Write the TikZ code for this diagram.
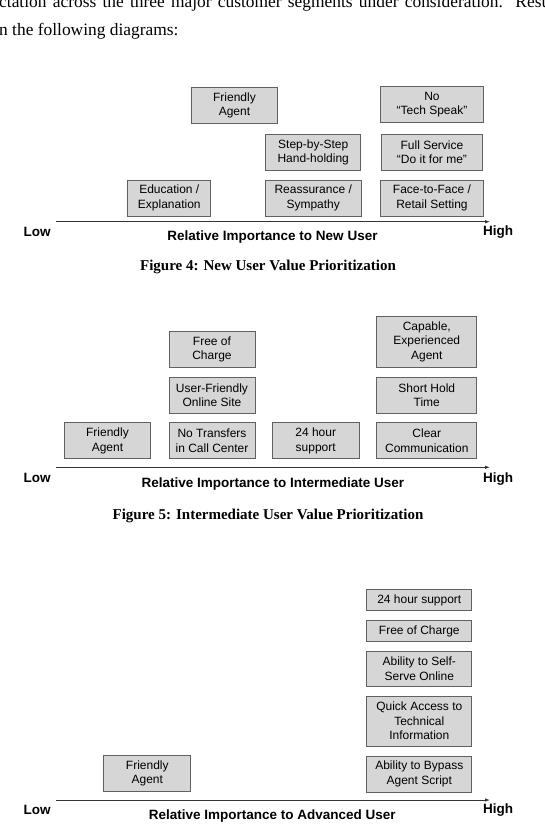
\documentclass[tikz,border=0pt]{standalone}
\usepackage{fontspec}
\setmainfont{Liberation Serif}
\setsansfont{Liberation Sans}
\usepackage{tikz}
\usetikzlibrary{positioning, arrows.meta}

\tikzset{
  valbox/.style={draw=black!62, fill=black!16, line width=0.8pt, font=\sffamily\fontsize{12}{14.5}\selectfont,
    align=center, inner sep=0pt, minimum height=36},
  axis/.style={-{Latex[length=5pt,width=3.5pt]}, draw=black!80, line width=0.8pt},
  axlabel/.style={font=\sffamily\bfseries\fontsize{13.5}{16}\selectfont, inner sep=0pt},
  caption/.style={font=\rmfamily\bfseries\fontsize{15}{18}\selectfont, inner sep=0pt},
  bodytext/.style={font=\rmfamily\fontsize{17.4}{21}\selectfont, inner sep=0pt, anchor=base west}
}

\begin{document}
\begin{tikzpicture}[x=1pt,y=-1pt,node distance=9pt]
  \useasboundingbox (0,0) rectangle (545,836);

  \node[bodytext] (P1) at (-1,7) {\hbox to 551pt{\hbadness=10000 ctation across the three major customer segments under consideration.\ \ Resu}};
  \node[bodytext] (P2) at (-1,35.5) {n the following diagrams:};

  % new user
  \node[valbox, minimum width=83] (Edu) at (169.3,198) {Education /\\Explanation};
  \node[valbox, minimum width=96] (Reas) at (313.2,198) {Reassurance /\\Sympathy};
  \node[valbox, minimum width=103] (FtF) at (432,198) {Face-to-Face /\\Retail Setting};
  \node[valbox, minimum width=95] (SbS) [above=of Reas] {Step-by-Step\\Hand-holding};
  \node[valbox, minimum width=101] (FullS) [above=of FtF] {Full Service\\“Do it for me”};
  \node[valbox, minimum width=103] (NoTech) [above=11pt of FullS] {No\\“Tech Speak”};
  \node[valbox, minimum width=86] (FrA) at (234.5,105.3) {Friendly\\Agent};

  \coordinate (L1) at (56,221.7);
  \coordinate (H1) at (490,221.7);
  \draw[axis] (L1) -- (H1);
  \node[axlabel] (Low1) at (37,232) {Low};
  \node[axlabel] (High1) at (498,232) {High};
  \node[axlabel] (Ax1) at (272.5,236.7) {Relative Importance to New User};
  \node[caption] (Cap1) at (268,267.3) {Figure 4: New User Value Prioritization};

  % intermediate user
  \node[valbox, minimum width=86] (FrB) at (107.5,440.8) {Friendly\\Agent};
  \node[valbox, minimum width=86] (NoTr) at (212,440.8) {No Transfers\\in Call Center};
  \node[valbox, minimum width=87] (Sup24) at (315.7,440.8) {24 hour\\support};
  \node[valbox, minimum width=100] (Clear) at (426.8,440.8) {Clear\\Communication};
  \node[valbox, minimum width=86] (UFOS) [above=of NoTr] {User-Friendly\\Online Site};
  \node[valbox, minimum width=86] (Free) [above=of UFOS] {Free of\\Charge};
  \node[valbox, minimum width=100] (Hold) [above=of Clear] {Short Hold\\Time};
  \node[valbox, minimum width=100, minimum height=51] (Capa) [above=of Hold] {Capable,\\Experienced\\Agent};

  \coordinate (L2) at (56,467.3);
  \coordinate (H2) at (490,467.3);
  \draw[axis] (L2) -- (H2);
  \node[axlabel] (Low2) at (37,478.3) {Low};
  \node[axlabel] (High2) at (498,479.3) {High};
  \node[axlabel] (Ax2) at (272.8,484) {Relative Importance to Intermediate User};
  \node[caption] (Cap2) at (268,515.7) {Figure 5: Intermediate User Value Prioritization};

  % advanced user
  \node[valbox, minimum width=87] (FrC) at (147.3,773.2) {Friendly\\Agent};
  \node[valbox, minimum width=105] (Bypass) at (419.3,774) {Ability to Bypass\\Agent Script};
  \node[valbox, minimum width=105, minimum height=50] (Quick) [above=of Bypass] {Quick Access to\\Technical\\Information};
  \node[valbox, minimum width=105, minimum height=35] (Self) [above=of Quick] {Ability to Self-\\Serve Online};
  \node[valbox, minimum width=105, minimum height=21] (FreeC) [above=of Self] {Free of Charge};
  \node[valbox, minimum width=105, minimum height=21] (Sup24C) [above=of FreeC] {24 hour support};

  \coordinate (L3) at (56,800);
  \coordinate (H3) at (490,800);
  \draw[axis] (L3) -- (H3);
  \node[axlabel] (Low3) at (37,810) {Low};
  \node[axlabel] (High3) at (498,810) {High};
  \node[axlabel] (Ax3) at (272.2,816) {Relative Importance to Advanced User};
\end{tikzpicture}
\end{document}
